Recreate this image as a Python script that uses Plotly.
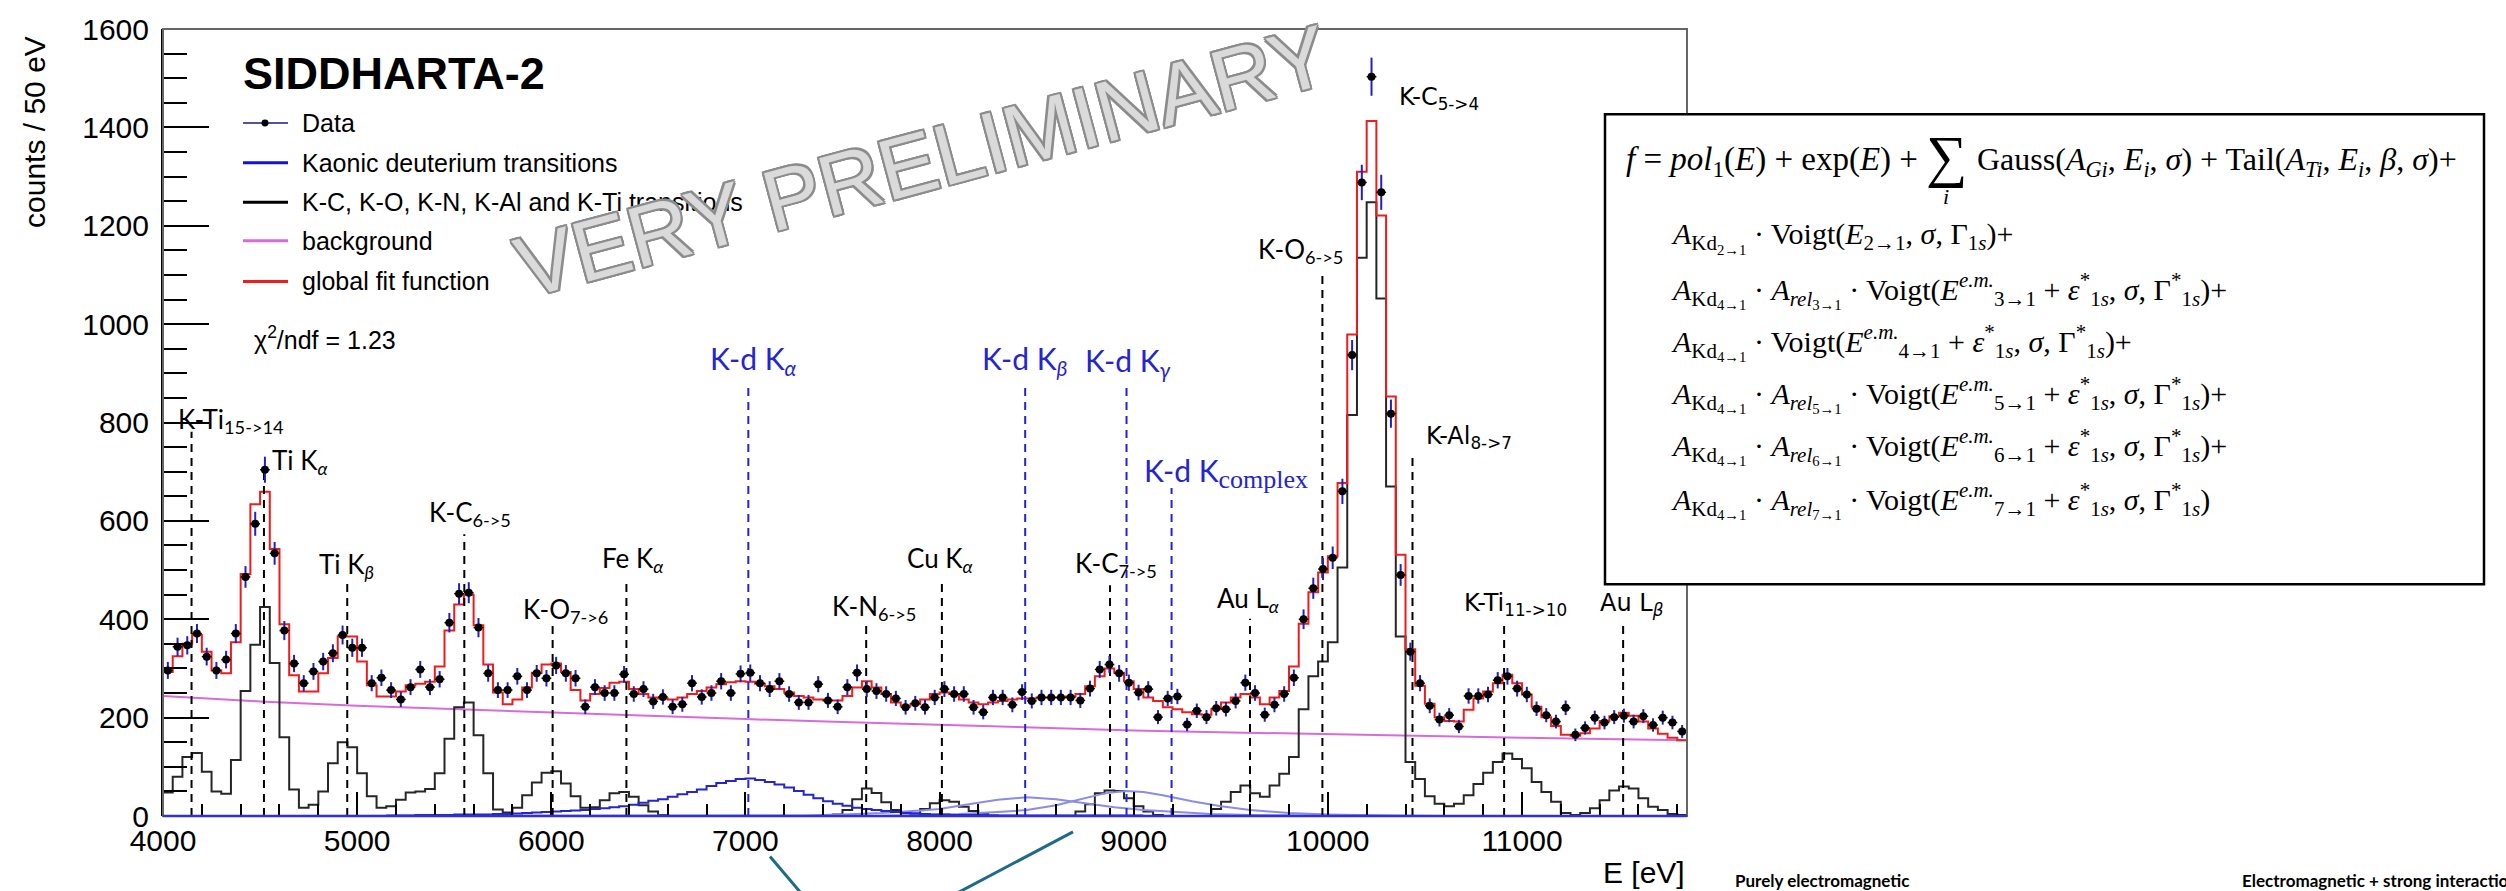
import numpy as np
import plotly.graph_objects as go

# ---------------- data ----------------
BIN = 50
E_LO, E_HI = 4000, 11850

data_counts = [
    296, 344, 347, 371, 324, 296, 318, 371, 486, 594, 704, 534, 377, 310, 270, 294, 314, 331, 368, 342,
    342, 270, 281, 256, 237, 262, 298, 262, 278, 393, 452, 454, 383, 290, 256, 256, 284, 256, 290, 280,
    306, 290, 280, 222, 262, 250, 250, 288, 248, 258, 233, 242, 222, 227, 270, 242, 250, 274, 250, 289,
    291, 270, 258, 274, 248, 231, 231, 268, 235, 222, 262, 291, 258, 254, 248, 239, 221, 229, 221, 241,
    258, 248, 248, 221, 211, 241, 241, 226, 252, 234, 241, 241, 241, 241, 235, 259, 298, 308, 290, 271,
    251, 258, 201, 239, 243, 186, 214, 201, 219, 217, 234, 271, 250, 206, 226, 248, 281, 400, 463, 502,
    525, 660, 937, 1288, 1503, 1268, 818, 490, 334, 270, 224, 196, 205, 182, 244, 244, 247, 276, 284, 259,
    247, 218, 205, 192, 220, 165, 179, 200, 190, 201, 204, 192, 203, 185, 200, 190, 172]

fit_counts = [
    293, 325, 350, 368, 334, 296, 290, 353, 492, 634, 659, 543, 390, 286, 253, 253, 290, 321, 365, 365,
    314, 266, 243, 243, 253, 266, 269, 273, 304, 377, 430, 450, 388, 308, 251, 227, 237, 261, 291, 308,
    310, 293, 256, 235, 248, 260, 271, 273, 258, 248, 241, 239, 237, 241, 248, 254, 261, 268, 272, 274,
    273, 269, 264, 258, 251, 244, 241, 237, 235, 235, 244, 261, 274, 261, 248, 231, 224, 227, 237, 248,
    251, 248, 237, 231, 227, 231, 234, 237, 239, 239, 241, 241, 241, 243, 248, 264, 284, 300, 291, 274,
    258, 241, 234, 221, 217, 211, 207, 206, 217, 231, 241, 248, 241, 227, 241, 254, 304, 391, 455, 495,
    528, 677, 979, 1310, 1413, 1221, 853, 531, 339, 265, 228, 201, 193, 192, 216, 239, 253, 270, 287, 270,
    247, 222, 201, 183, 165, 163, 168, 178, 193, 203, 210, 204, 192, 178, 167, 159, 154]

exotic_counts = [  # K-C, K-O, K-N, K-Al and K-Ti transitions (black)
    48, 80, 120, 128, 90, 50, 45, 114, 254, 348, 425, 311, 160, 54, 17, 23, 50, 107, 150, 140,
    87, 40, 17, 20, 33, 48, 50, 55, 87, 157, 221, 231, 164, 87, 13, 7, 17, 42, 68, 88,
    91, 66, 40, 17, 18, 32, 46, 49, 39, 22, 9, 2, 0, 0, 0, 0, 0, 0, 0, 0,
    0, 0, 0, 0, 0, 0, 0, 0, 0, 3, 12, 34, 56, 47, 28, 12, 7, 5, 14, 26,
    32, 29, 19, 10, 4, 1, 0, 0, 0, 0, 0, 0, 0, 0, 9, 24, 46, 52, 51, 36,
    20, 9, 2, 0, 0, 0, 0, 0, 14, 29, 49, 62, 46, 39, 62, 86, 120, 217, 284, 314,
    353, 505, 815, 1135, 1248, 1052, 670, 365, 110, 75, 40, 25, 20, 25, 42, 65, 88, 110, 127, 116,
    97, 69, 49, 29, 6, 2, 6, 16, 32, 52, 60, 56, 36, 19, 12, 4, 2]

kd_alpha_start = 5150
kd_alpha_counts = [
    1, 1, 1, 2, 2, 2, 2, 3, 3, 3, 3, 4, 4, 5, 6, 7, 8, 9, 10, 11,
    12, 14, 16, 18, 20, 23, 27, 31, 34, 39, 44, 49, 54, 61, 67, 71, 75, 76, 73, 69,
    64, 58, 51, 43, 36, 30, 25, 21, 17, 14, 12, 10, 8, 6, 5, 4, 3, 3, 2, 2,
    2, 2, 1, 1, 1, 1, 1, 1, 1, 1, 1, 1, 1, 1, 1, 1, 1, 1]

kd_beta_energy = [4000, 7300, 7500, 7700, 7900, 8000, 8150, 8300, 8450, 8600, 8750, 8900, 9050, 9200, 9400, 9600, 10000, 10400, 11850]
kd_beta_counts = [0, 1, 3, 6, 11, 14, 24, 33, 38, 34, 26, 18, 12, 8, 4, 2, 1, 0, 0]

kd_gamma_energy = [4000, 7700, 7900, 8100, 8300, 8450, 8600, 8750, 8850, 8960, 9050, 9150, 9300, 9450, 9600, 9800, 10000, 10300, 10600, 11850]
kd_gamma_counts = [0, 0, 2, 4, 8, 12, 22, 37, 46, 51, 49, 42, 30, 20, 12, 6, 3, 1, 0, 0]

bg_energy = [4000, 4500, 5000, 5500, 6000, 6500, 7000, 7500, 8000, 8500, 9000, 9500, 10000, 10500, 11000, 11500, 11850]
bg_counts = [244, 233, 224, 217, 210, 203, 197, 191, 185, 179, 174, 170, 166, 162, 159, 156, 154]

mark_energy = [4147, 4520, 4949, 5552, 6007, 6387, 7622, 8012, 8878, 9599, 9972, 10436, 10908, 11521]
mark_top = [781, 700, 475, 573, 389, 479, 389, 475, 469, 401, 1106, 736, 391, 391]
kd_mark_energy = [7015, 8441, 8963, 9195]
kd_mark_top = [875, 880, 875, 667]

x_tick_labels = ["4000", "5000", "6000", "7000", "8000", "9000", "10000", "11000"]
y_tick_labels = ["0", "200", "400", "600", "800", "1000", "1200", "1400", "1600"]

# ---------------- helpers ----------------
L, R, T, B = 163, 1687, 21, 816


def px(x):
    return (x - L) / (R - L)


def py(y):
    return (B - y) / (B - T)


def steps(start, values):
    edges = [start + BIN * i for i in range(len(values) + 1)]
    return edges, list(values) + [values[-1]]


centers = [E_LO + BIN * (i + 0.5) for i in range(len(data_counts))]

RED = "#ee1c1c"
BLK = "#262626"
MAG = "#d96ad9"
DBLUE = "#2424d0"
LBLUE = "#8b8be8"

fig = go.Figure()

fig.add_trace(go.Scatter(x=bg_energy, y=bg_counts, mode="lines", line=dict(color=MAG, width=2)))
ex, ey = steps(E_LO, exotic_counts)
fig.add_trace(go.Scatter(x=ex, y=ey, mode="lines", line=dict(color=BLK, width=2, shape="hv")))
fig.add_trace(go.Scatter(x=kd_beta_energy, y=kd_beta_counts, mode="lines", line=dict(color=LBLUE, width=2)))
fig.add_trace(go.Scatter(x=kd_gamma_energy, y=kd_gamma_counts, mode="lines", line=dict(color=LBLUE, width=2)))
ax, ay = steps(kd_alpha_start, kd_alpha_counts)
fig.add_trace(go.Scatter(x=ax, y=ay, mode="lines", line=dict(color=DBLUE, width=2, shape="hv")))
fx, fy = steps(E_LO, fit_counts)
fig.add_trace(go.Scatter(x=fx, y=fy, mode="lines", line=dict(color=RED, width=2, shape="hv")))

for e, top in zip(mark_energy, mark_top):
    fig.add_trace(go.Scatter(x=[e, e], y=[0, top], mode="lines",
                             line=dict(color="black", width=2, dash="8px,6px")))
for e, top in zip(kd_mark_energy, kd_mark_top):
    fig.add_trace(go.Scatter(x=[e, e], y=[0, top], mode="lines",
                             line=dict(color=DBLUE, width=2, dash="8px,6px")))

fig.add_trace(go.Scatter(
    x=centers, y=data_counts, mode="markers",
    marker=dict(color="black", size=8),
    error_y=dict(type="data", array=list(np.sqrt(data_counts)), color="#2020c8", thickness=2, width=0),
    error_x=dict(type="constant", value=BIN / 2, color="black", thickness=1.5, width=0)))

shapes = []
annotations = []

shapes.append(dict(type="rect", xref="paper", yref="paper", x0=0, x1=1, y0=0, y1=1,
                   line=dict(color="#666666", width=2), layer="above"))
shapes.append(dict(type="line", xref="paper", yref="paper", x0=0, x1=1, y0=0, y1=0,
                   line=dict(color="#3030d8", width=2.5), layer="above"))

# legend
leg_y = [116, 156, 196, 235, 276]
leg_txt = ["Data", "Kaonic deuterium transitions", "K-C, K-O, K-N, K-Al and K-Ti transitions",
           "background", "global fit function"]
leg_col = ["#1a1a80", "#1010e0", "black", MAG, RED]
for yy, tx, c in zip(leg_y, leg_txt, leg_col):
    shapes.append(dict(type="line", xref="paper", yref="paper", x0=px(243), x1=px(288),
                       y0=py(yy), y1=py(yy), line=dict(color=c, width=1.5 if tx == "Data" else 3)))
    annotations.append(dict(x=px(300), y=py(yy), xref="paper", yref="paper", text=tx,
                            xanchor="left", yanchor="middle", showarrow=False,
                            font=dict(family="Liberation Sans", size=25, color="black")))
shapes.append(dict(type="circle", xref="paper", yref="paper", x0=px(261.5), x1=px(268.5),
                   y0=py(119.5), y1=py(112.5), fillcolor="black", line=dict(color="black", width=0)))

annotations.append(dict(x=px(241), y=py(66), xref="paper", yref="paper", text="<b>SIDDHARTA-2</b>",
                        xanchor="left", yanchor="middle", showarrow=False,
                        font=dict(family="Liberation Sans", size=45, color="black")))
annotations.append(dict(x=px(252), y=py(333), xref="paper", yref="paper", text="χ<sup>2</sup>/ndf = 1.23",
                        xanchor="left", yanchor="middle", showarrow=False,
                        font=dict(family="Liberation Sans", size=25, color="black")))

# peak labels
LAB = "Lato"
DJ = "DejaVu Sans"
cplx = "<span style='font-family:Liberation Serif;font-size:26px'>complex</span>"
labels = [
    ("K-Ti<sub>15->14</sub>", 176, 416, "black", LAB, 26),
    ("Ti K<sub><i>α</i></sub>", 270, 458, "black", LAB, 26),
    ("Ti K<sub><i>β</i></sub>", 317, 563, "black", LAB, 26),
    ("K-C<sub>6->5</sub>", 427, 510, "black", LAB, 26),
    ("K-O<sub>7->6</sub>", 521, 608, "black", LAB, 26),
    ("Fe K<sub><i>α</i></sub>", 600, 557, "black", LAB, 26),
    ("K-d K<sub><i>α</i></sub>", 708, 355, DBLUE, LAB, 30),
    ("K-N<sub>6->5</sub>", 830, 605, "black", LAB, 26),
    ("Cu K<sub><i>α</i></sub>", 905, 557, "black", LAB, 26),
    ("K-d K<sub><i>β</i></sub>", 980, 355, DBLUE, LAB, 30),
    ("K-d K<sub><i>γ</i></sub>", 1083, 357, DBLUE, LAB, 30),
    ("K-d K<sub>" + cplx + "</sub>", 1142, 470, DBLUE, LAB, 30),
    ("K-C<sub>7->5</sub>", 1073, 562, "black", LAB, 26),
    ("Au L<sub><i>α</i></sub>", 1215, 597, "black", LAB, 26),
    ("K-O<sub>6->5</sub>", 1256, 245, "black", LAB, 26),
    ("K-C<sub>5->4</sub>", 1397, 91, "black", DJ, 24),
    ("K-Al<sub>8->7</sub>", 1424, 434, "black", DJ, 24),
    ("K-Ti<sub>11->10</sub>", 1462, 602, "black", DJ, 24),
    ("Au L<sub><i>β</i></sub>", 1598, 602, "black", DJ, 24),
]
for tx, x, y, c, fam, sz in labels:
    annotations.append(dict(x=px(x), y=py(y), xref="paper", yref="paper", text=tx,
                            xanchor="left", yanchor="middle", showarrow=False,
                            font=dict(family=fam, size=sz, color=c)))

annotations.append(dict(x=px(1687), y=py(873), xref="paper", yref="paper", text="E [eV]",
                        xanchor="right", yanchor="middle", showarrow=False,
                        font=dict(family="Liberation Sans", size=30, color="black")))
annotations.append(dict(x=px(35), y=py(125), xref="paper", yref="paper", text="counts / 50 eV",
                        textangle=-90, xanchor="center", yanchor="middle", showarrow=False,
                        font=dict(family="Liberation Sans", size=30, color="black")))

# watermark
wm = "#8c8c8c"
annotations.append(dict(x=px(922), y=py(154), xref="paper", yref="paper", text="VERY PRELIMINARY",
                        textangle=-15, xanchor="center", yanchor="middle", showarrow=False,
                        font=dict(family="Liberation Sans", size=86, color="#dadada",
                                  shadow=(f"2px 2px 0 {wm}, -2px -2px 0 {wm}, 2px -2px 0 {wm}, -2px 2px 0 {wm}, "
                                          f"0 2px 0 {wm}, 2px 0 0 {wm}, 0 -2px 0 {wm}, -2px 0 0 {wm}"))))

# formula box
shapes.append(dict(type="rect", xref="paper", yref="paper", x0=px(1605), x1=px(2484), y0=py(582), y1=py(107),
                   line=dict(color="black", width=2.5), fillcolor="white"))
SER = "Liberation Serif"
fsz = 30
annotations.append(dict(x=px(1624), y=py(155), xref="paper", yref="paper",
                        text="<i>f</i> = <i>pol</i><sub>1</sub>(<i>E</i>) + exp(<i>E</i>) +",
                        xanchor="left", yanchor="middle", showarrow=False, font=dict(family=SER, size=33, color="black")))
annotations.append(dict(x=px(1946), y=py(150), xref="paper", yref="paper", text="∑",
                        xanchor="center", yanchor="middle", showarrow=False, font=dict(family=SER, size=58, color="black")))
annotations.append(dict(x=px(1946), y=py(190), xref="paper", yref="paper", text="<i>i</i>",
                        xanchor="center", yanchor="middle", showarrow=False, font=dict(family=SER, size=22, color="black")))
annotations.append(dict(x=px(1975), y=py(155), xref="paper", yref="paper",
                        text=("Gauss(<i>A</i><sub><i>Gi</i></sub>, <i>E</i><sub><i>i</i></sub>, <i>σ</i>) + "
                              "Tail(<i>A</i><sub><i>Ti</i></sub>, <i>E</i><sub><i>i</i></sub>, <i>β</i>, <i>σ</i>)+"),
                        xanchor="left", yanchor="middle", showarrow=False, font=dict(family=SER, size=32, color="black")))
rows = [
    (232, "<i>A</i><sub>Kd<sub>2→1</sub></sub> · Voigt(<i>E</i><sub>2→1</sub>, <i>σ</i>, Γ<sub>1<i>s</i></sub>)+"),
]
tail = ", <i>σ</i>, Γ<sup>*</sup><sub>1<i>s</i></sub>)"
eps = " + <i>ε</i><sup>*</sup><sub>1<i>s</i></sub>"
for yy, n, rel, end in [(285, "3", True, "+"), (338, "4", False, "+"), (390, "5", True, "+"),
                        (443, "6", True, "+"), (497, "7", True, "")]:
    s = "<i>A</i><sub>Kd<sub>4→1</sub></sub> · "
    if rel:
        s += f"<i>A</i><sub><i>rel</i><sub>{n}→1</sub></sub> · "
    s += f"Voigt(<i>E</i><sup><i>e.m.</i></sup><sub>{n}→1</sub>" + eps + tail + end
    rows.append((yy, s))
for yy, s in rows:
    annotations.append(dict(x=px(1669), y=py(yy), xref="paper", yref="paper", text=s,
                            xanchor="left", yanchor="middle", showarrow=False,
                            font=dict(family=SER, size=fsz, color="black")))

# callout lines
teal = "#1d6b88"
shapes.append(dict(type="line", xref="paper", yref="paper", x0=px(770), y0=py(857), x1=px(802), y1=py(895),
                   line=dict(color=teal, width=3)))
shapes.append(dict(type="line", xref="paper", yref="paper", x0=px(1073), y0=py(832), x1=px(955), y1=py(895),
                   line=dict(color=teal, width=3)))

# bottom captions
annotations.append(dict(x=px(1733), y=py(881), xref="paper", yref="paper", text="<b>Purely electromagnetic</b>",
                        xanchor="left", yanchor="middle", showarrow=False,
                        font=dict(family="Lato", size=17, color="black")))
annotations.append(dict(x=px(2240), y=py(881), xref="paper", yref="paper",
                        text="<b>Electromagnetic + strong interaction</b>",
                        xanchor="left", yanchor="middle", showarrow=False,
                        font=dict(family="Lato", size=17, color="black")))

fig.update_layout(
    width=2506, height=891,
    margin=dict(l=L, r=2506 - R, t=T, b=891 - B, pad=0),
    plot_bgcolor="white", paper_bgcolor="white", showlegend=False,
    shapes=shapes, annotations=annotations,
    xaxis=dict(range=[E_LO, E_HI], tickvals=[4000 + 1000 * i for i in range(len(x_tick_labels))],
               ticktext=x_tick_labels, ticks="inside", ticklen=24, tickwidth=2, tickcolor="black",
               minor=dict(dtick=200, tick0=4000, ticks="inside", ticklen=12, tickwidth=2, tickcolor="black"),
               showgrid=False, zeroline=False, showline=False,
               tickfont=dict(family="Liberation Sans", size=30, color="black"), ticklabelstandoff=4),
    yaxis=dict(range=[0, 1600], tickvals=[200 * i for i in range(len(y_tick_labels))], ticktext=y_tick_labels,
               ticks="inside", ticklen=46, tickwidth=2, tickcolor="black",
               minor=dict(dtick=50, tick0=0, ticks="inside", ticklen=24, tickwidth=2, tickcolor="black"),
               showgrid=False, zeroline=False, showline=True, linecolor="black", linewidth=2,
               tickfont=dict(family="Liberation Sans", size=30, color="black"), ticklabelstandoff=6),
)

fig.write_html("out.html")
